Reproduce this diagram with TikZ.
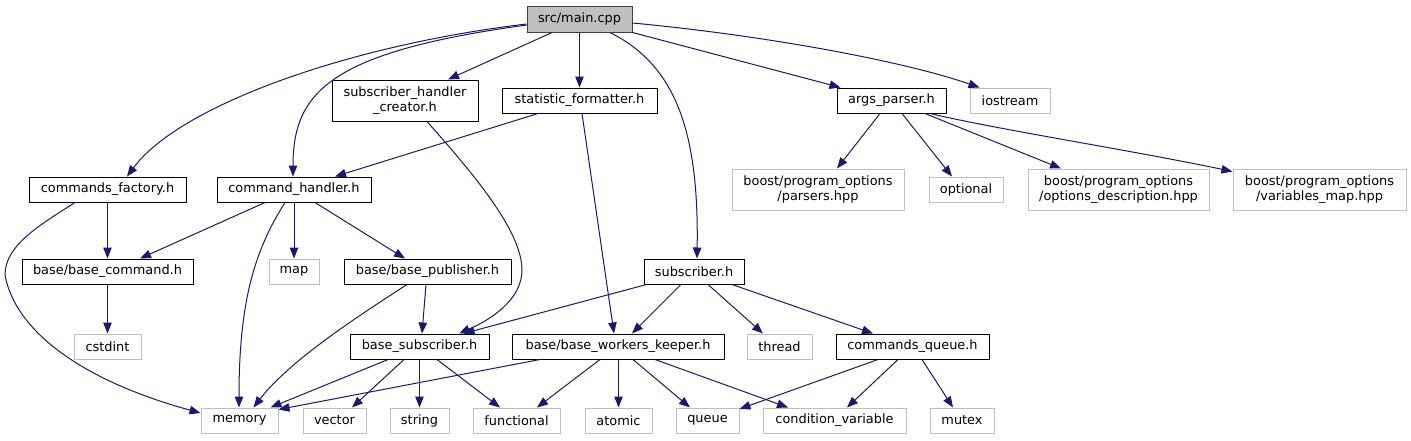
\documentclass[tikz,border=0pt]{standalone}
\usepackage{fontspec}
\setmainfont{DejaVu Sans}
\usetikzlibrary{arrows.meta,calc}
\definecolor{edgeblue}{HTML}{191970}
\definecolor{extgray}{HTML}{BFBFBF}
\definecolor{rootfill}{HTML}{BFBFBF}
\definecolor{rootdraw}{HTML}{404040}
\begin{document}
\begin{tikzpicture}[x=1pt,y=-1pt,
  every node/.style={font=\fontsize{12.9}{14.5}\selectfont, inner sep=0pt, align=center},
  doc/.style={draw=black, line width=1pt, fill=white, minimum height=25pt},
  ext/.style={draw=extgray, line width=1pt, fill=white, minimum height=25pt},
  root/.style={draw=rootdraw, line width=1pt, fill=rootfill, minimum height=26pt},
  edge/.style={draw=edgeblue, line width=1pt, -{Triangle[length=11pt,width=8.5pt]}}]
\fill[white] (0,0) rectangle (1411,440);
\useasboundingbox (0,0) rectangle (1411,440);
% level 0
\node[root, minimum width=105pt] (main) at (579.5,19) {src/main.cpp};
% level 1
\node[doc, minimum width=146pt, minimum height=41pt] (shc) at (405,100.5) {subscriber\_handler\\\_creator.h};
\node[doc, minimum width=155pt] (stat) at (579.5,100.5) {statistic\_formatter.h};
\node[doc, minimum width=109pt] (args) at (891.5,100.5) {args\_parser.h};
\node[ext, minimum width=80pt] (iostream) at (1010,100.5) {iostream};
% level 2
\node[doc, minimum width=157pt] (cfac) at (107.5,189.5) {commands\_factory.h};
\node[doc, minimum width=154pt] (chand) at (294,189.5) {command\_handler.h};
\node[ext, minimum width=172pt, minimum height=41pt] (parsers) at (818,189.5) {boost/program\_options\\/parsers.hpp};
\node[ext, minimum width=74pt] (optional) at (966,189.5) {optional};
\node[ext, minimum width=181pt, minimum height=41pt] (optdesc) at (1118.5,189.5) {boost/program\_options\\/options\_description.hpp};
\node[ext, minimum width=173pt, minimum height=41pt] (varmap) at (1319.5,189.5) {boost/program\_options\\/variables\_map.hpp};
% level 3
\node[doc, minimum width=171pt] (bcmd) at (107.5,271.5) {base/base\_command.h};
\node[ext, minimum width=50pt] (map) at (294,271.5) {map};
\node[doc, minimum width=167pt] (bpub) at (427.5,271.5) {base/base\_publisher.h};
\node[doc, minimum width=100pt] (subh) at (694,271.5) {subscriber.h};
% level 4
\node[ext, minimum width=67pt] (cstdint) at (107.5,346.5) {cstdint};
\node[doc, minimum width=139pt] (bsub) at (419.5,346.5) {base\_subscriber.h};
\node[doc, minimum width=212pt] (bwk) at (618,346.5) {base/base\_workers\_keeper.h};
\node[ext, minimum width=65pt] (thread) at (779.5,346.5) {thread};
\node[doc, minimum width=153pt] (cq) at (912.5,346.5) {commands\_queue.h};
% level 5
\node[ext, minimum width=77pt] (memory) at (239.5,420.5) {memory};
\node[ext, minimum width=63pt] (vector) at (334.5,420.5) {vector};
\node[ext, minimum width=59pt] (string) at (419.5,420.5) {string};
\node[ext, minimum width=87pt] (functional) at (516.5,420.5) {functional};
\node[ext, minimum width=67pt] (atomic) at (618.5,420.5) {atomic};
\node[ext, minimum width=63pt] (queue) at (707.5,420.5) {queue};
\node[ext, minimum width=143pt] (condvar) at (834.5,420.5) {condition\_variable};
\node[ext, minimum width=64pt] (mutex) at (962,420.5) {mutex};
% edges from main
\draw[edge] ($(main.west)+(0,5)$) .. controls (350,45) and (180,105) .. ($(cfac.north)+(19.5,0)$);
\draw[edge] ($(main.west)+(0,6)$) .. controls (330,52) and (293,92) .. ($(chand.north)+(-1,0)$);
\draw[edge] ($(main.south)+(-27.5,0)$) -- ($(shc.north)+(43,0)$);
\draw[edge] (main.south) -- (stat.north);
\draw[edge] ($(main.south)+(30.5,0)$) .. controls (675,65) and (699,130) .. ($(subh.north)+(3,0)$);
\draw[edge] (main.south east) -- ($(args.north west)+(4,0)$);
\draw[edge] ($(main.east)+(0,4)$) .. controls (760,35) and (900,60) .. ($(iostream.north west)+(10,0)$);
% statistic formatter
\draw[edge] ($(stat.south)+(-41.5,0)$) -- ($(chand.north)+(41,0)$);
\draw[edge] ($(stat.south)+(2.5,0)$) -- ($(bwk.north)+(-4,0)$);
% subscriber handler creator
\draw[edge] ($(shc.south)+(22,0)$) .. controls (470,170) and (522,230) .. (522,270) .. controls (522,300) and (490,320) .. ($(bsub.north)+(39.5,0)$);
% args parser
\draw[edge] ($(args.south)+(-11.5,0)$) -- ($(parsers.north)+(19,0)$);
\draw[edge] ($(args.south)+(10.5,0)$) -- ($(optional.north)+(-14,0)$);
\draw[edge] ($(args.south)+(33.5,0)$) -- ($(optdesc.north)+(-57.5,0)$);
\draw[edge] ($(args.south)+(38.5,0)$) .. controls (1000,130) and (1130,150) .. ($(varmap.north west)+(0,3)$);
% commands factory
\draw[edge] (cfac.south) -- (bcmd.north);
\draw[edge] ($(cfac.south)+(-32.5,0)$) .. controls (40,225) and (5,245) .. (5,275) .. controls (15,330) and (80,380) .. ($(memory.west)+(0,-7.5)$);
% command handler
\draw[edge] ($(chand.south)+(-29,0)$) -- ($(bcmd.north)+(32.5,0)$);
\draw[edge] ($(chand.south)+(-9,0)$) .. controls (255,250) and (239,300) .. ($(memory.north)+(-0.5,0)$);
\draw[edge] (chand.south) -- (map.north);
\draw[edge] ($(chand.south)+(21,0)$) -- ($(bpub.north)+(-22.5,0)$);
% base command
\draw[edge] (bcmd.south) -- (cstdint.north);
% base publisher
\draw[edge] ($(bpub.south)+(-1.5,0)$) -- ($(bsub.north)+(2.5,0)$);
\draw[edge] ($(bpub.south)+(-20.5,0)$) .. controls (360,315) and (290,360) .. ($(memory.north)+(14,0)$);
% subscriber
\draw[edge] ($(subh.south west)+(3,0)$) -- ($(bsub.north)+(44,0)$);
\draw[edge] ($(subh.south)+(-13,0)$) -- ($(bwk.north)+(14,0)$);
\draw[edge] ($(subh.south)+(14,0)$) -- ($(thread.north)+(-16.5,0)$);
\draw[edge] ($(subh.south)+(38,0)$) -- ($(cq.north)+(-39.5,0)$);
% base subscriber
\draw[edge] ($(bsub.south)+(-31.5,0)$) -- ($(memory.north)+(31,0)$);
\draw[edge] ($(bsub.south)+(-15.5,0)$) -- ($(vector.north)+(17.5,0)$);
\draw[edge] (bsub.south) -- (string.north);
\draw[edge] ($(bsub.south)+(17.5,0)$) -- ($(functional.north)+(-16.5,0)$);
% base workers keeper
\draw[edge] ($(bwk.south)+(-78,0)$) -- ($(memory.north east)+(0,2)$);
\draw[edge] ($(bwk.south)+(-18,0)$) -- ($(functional.north)+(20.5,0)$);
\draw[edge] ($(bwk.south)+(0.5,0)$) -- (atomic.north);
\draw[edge] ($(bwk.south)+(15,0)$) -- ($(queue.north)+(-17.5,0)$);
\draw[edge] ($(bwk.south)+(37,0)$) -- ($(condvar.north)+(-46.5,0)$);
% commands queue
\draw[edge] ($(cq.south)+(-34.5,0)$) -- ($(queue.north east)+(0,1.5)$);
\draw[edge] ($(cq.south)+(-14.5,0)$) -- ($(condvar.north)+(12.5,0)$);
\draw[edge] ($(cq.south)+(9.5,0)$) -- ($(mutex.north)+(-9,0)$);
\end{tikzpicture}
\end{document}
